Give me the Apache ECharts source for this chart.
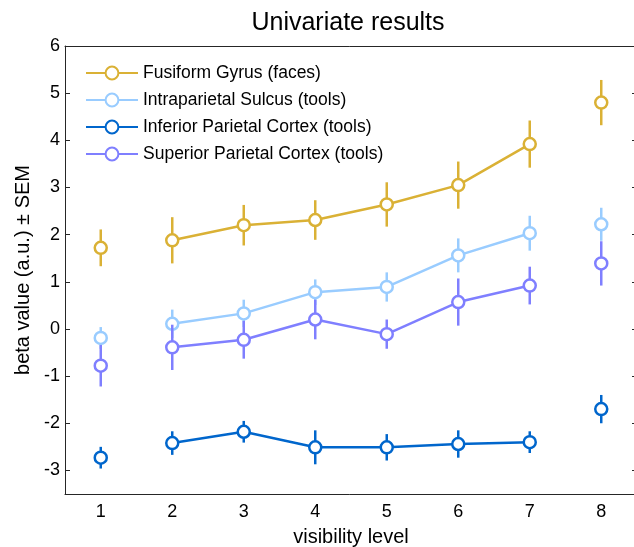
<!DOCTYPE html>
<html>
<head>
<meta charset="utf-8">
<script src="https://cdn.jsdelivr.net/npm/echarts@6/dist/echarts.min.js"></script>
<style>
  html, body { margin: 0; padding: 0; background: #fff; }
  #chart { width: 634px; height: 547px; }
</style>
</head>
<body>
<div id="chart"></div>
<script>
// visibility levels on x
var levels = ['1', '2', '3', '4', '5', '6', '7', '8'];
var yTicks = [-3, -2, -1, 0, 1, 2, 3, 4, 5, 6];

// mean beta values and SEM
var fusiform = [1.72, 1.88, 2.20, 2.31, 2.64, 3.05, 3.92, 4.80];
var fusiformSem = [0.39, 0.49, 0.43, 0.42, 0.47, 0.50, 0.50, 0.48];
var intraparietal = [-0.19, 0.11, 0.33, 0.78, 0.89, 1.56, 2.03, 2.22];
var intraparietalSem = [0.23, 0.30, 0.29, 0.27, 0.31, 0.36, 0.37, 0.35];
var inferior = [-2.73, -2.42, -2.18, -2.51, -2.51, -2.44, -2.40, -1.70];
var inferiorSem = [0.23, 0.25, 0.23, 0.36, 0.28, 0.29, 0.23, 0.30];
var superior = [-0.78, -0.39, -0.23, 0.20, -0.11, 0.57, 0.92, 1.39];
var superiorSem = [0.44, 0.48, 0.40, 0.42, 0.31, 0.50, 0.40, 0.47];

var regions = [
    {name: 'Fusiform Gyrus (faces)', color: '#DAB135', mean: fusiform, sem: fusiformSem},
    {name: 'Intraparietal Sulcus (tools)', color: '#99CCFF', mean: intraparietal, sem: intraparietalSem},
    {name: 'Inferior Parietal Cortex (tools)', color: '#0066CC', mean: inferior, sem: inferiorSem},
    {name: 'Superior Parietal Cortex (tools)', color: '#7F7FFF', mean: superior, sem: superiorSem}
];

var font = '"Liberation Sans", Arial, sans-serif';
var axisColor = '#262626';

var lineSeries = [];
var dotSeries = [];
var barSeries = [];
regions.forEach(function (r, k) {
    var symStyle = {color: '#fff', borderColor: r.color, borderWidth: 2.5, opacity: 1};
    // levels 2..7 are joined by a line
    lineSeries.push({
        name: r.name,
        type: 'line',
        data: r.mean.map(function (v, i) { return (i === 0 || i === 7) ? '-' : v; }),
        symbol: 'circle',
        symbolSize: 12,
        showAllSymbol: true,
        itemStyle: symStyle,
        lineStyle: {color: r.color, width: 2.5},
        emphasis: {disabled: true},
        z: 3 + k
    });
    // levels 1 and 8 stand alone
    dotSeries.push({
        name: r.name,
        type: 'scatter',
        data: [[0, r.mean[0]], [7, r.mean[7]]],
        symbol: 'circle',
        symbolSize: 12,
        itemStyle: symStyle,
        emphasis: {disabled: true},
        z: 3 + k
    });
    // error bars (mean ± SEM)
    barSeries.push({
        name: r.name,
        type: 'custom',
        data: r.mean.map(function (v, i) { return [i, v - r.sem[i], v + r.sem[i]]; }),
        renderItem: function (params, api) {
            var p1 = api.coord([api.value(0), api.value(1)]);
            var p2 = api.coord([api.value(0), api.value(2)]);
            return {
                type: 'line',
                shape: {x1: p1[0], y1: p1[1], x2: p2[0], y2: p2[1]},
                style: {stroke: r.color, lineWidth: 2.5}
            };
        },
        encode: {x: 0, y: [1, 2]},
        z: 2 + k
    });
});

var chart = echarts.init(document.getElementById('chart'));
var option = {
    animation: false,
    textStyle: {fontFamily: font},
    title: {
        text: 'Univariate results',
        left: 343,
        textAlign: 'center',
        top: 6,
        textStyle: {fontSize: 25, fontWeight: 'normal', color: '#000', fontFamily: font}
    },
    legend: {
        orient: 'vertical',
        left: 80,
        top: 59,
        itemWidth: 52,
        itemHeight: 16,
        itemGap: 9,
        data: regions.map(function (r) { return r.name; }),
        textStyle: {fontSize: 17.5, color: '#000', fontFamily: font}
    },
    grid: {left: 65, right: -3, top: 46, bottom: 53, outerBoundsMode: 'none'},
    xAxis: [{
        type: 'category',
        data: levels,
        position: 'bottom',
        boundaryGap: true,
        axisLine: {onZero: false, lineStyle: {color: axisColor, width: 1}},
        axisTick: {inside: true, alignWithLabel: true, length: 5, lineStyle: {color: axisColor}},
        axisLabel: {fontSize: 18, color: '#000', margin: 9},
        splitLine: {show: false},
        name: 'visibility level',
        nameLocation: 'middle',
        nameGap: 33,
        nameTextStyle: {fontSize: 20, color: '#000'}
    }, {
        type: 'category',
        data: levels,
        position: 'top',
        boundaryGap: true,
        axisLine: {onZero: false, lineStyle: {color: axisColor, width: 1}},
        axisTick: {inside: true, alignWithLabel: true, length: 5, lineStyle: {color: axisColor}},
        axisLabel: {show: false},
        splitLine: {show: false}
    }],
    yAxis: [{
        type: 'value',
        min: -3.5,
        max: 6,
        position: 'left',
        axisLine: {show: true, onZero: false, lineStyle: {color: axisColor, width: 1}},
        axisTick: {show: true, inside: true, length: 5, customValues: yTicks, lineStyle: {color: axisColor}},
        axisLabel: {customValues: yTicks, fontSize: 18, color: '#000', margin: 5},
        splitLine: {show: false},
        name: 'beta value (a.u.) ± SEM',
        nameLocation: 'middle',
        nameGap: 30,
        nameTextStyle: {fontSize: 20, color: '#000'}
    }, {
        type: 'value',
        min: -3.5,
        max: 6,
        position: 'right',
        axisLine: {show: true, onZero: false, lineStyle: {color: axisColor, width: 1}},
        axisTick: {show: true, inside: true, length: 5, customValues: yTicks, lineStyle: {color: axisColor}},
        axisLabel: {show: false},
        splitLine: {show: false}
    }],
    series: lineSeries.concat(dotSeries, barSeries)
};
chart.setOption(option);
</script>
</body>
</html>
